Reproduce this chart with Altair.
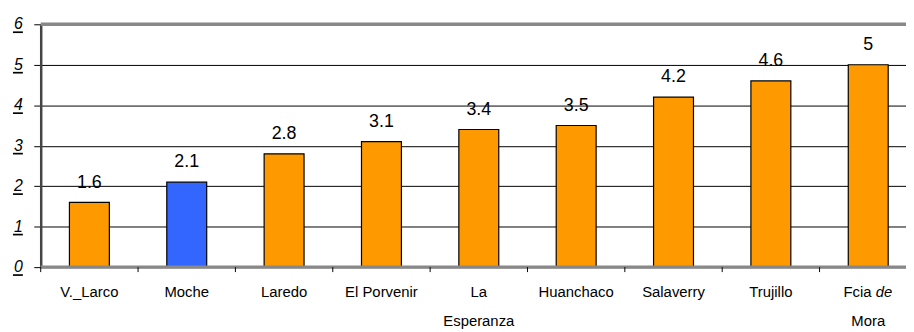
import altair as alt
import pandas as pd

places = ["V._Larco", "Moche", "Laredo", "El Porvenir", "La\nEsperanza",
          "Huanchaco", "Salaverry", "Trujillo", "Fcia de\nMora"]
values = [1.6, 2.1, 2.8, 3.1, 3.4, 3.5, 4.2, 4.6, 5]
highlight = "Moche"
y_ticks = [0, 1, 2, 3, 4, 5, 6]
frame_lines = [0, 6]

df = pd.DataFrame({"place": places, "value": values})
df["group"] = ["hi" if p == highlight else "base" for p in places]
ticks_df = pd.DataFrame({"value": y_ticks})
frame_df = pd.DataFrame({"value": frame_lines})

# last label: first line is "Fcia" (upright) + "de" (italic)
last = places[-1]
first_line_words = last.split("\n")[0].split(" ")
fcia_df = pd.DataFrame({"place": [last], "txt": [first_line_words[0]]})
de_df = pd.DataFrame({"place": [last], "txt": [first_line_words[1]]})

FONT = "Liberation Sans"
xscale = alt.Scale(range=[0, 884], paddingInner=0, paddingOuter=0)
yscale = alt.Scale(domain=[0, 6], nice=False)

label_expr = ("indexof(datum.label, 'Fcia') == 0 ? ['', split(datum.label, '\\n')[1]]"
              " : split(datum.label, '\\n')")

xaxis = alt.Axis(labelAngle=0, domain=False, ticks=False, grid=False,
                 labelFontSize=15, labelColor="#000000",
                 labelFont=FONT, labelBaseline="top",
                 labelPadding=18, labelLineHeight=29,
                 labelLimit=200,
                 labelExpr=label_expr)
yaxis = alt.Axis(values=y_ticks, grid=True, gridColor="#000000",
                 gridWidth=1, tickSize=7, tickColor="#000000",
                 domainColor="#444444", domainWidth=2.5,
                 labels=False)

X = alt.X("place:N", sort=None, scale=xscale, title=None, axis=xaxis)
Y = alt.Y("value:Q", scale=yscale, title=None, axis=yaxis)

bars = alt.Chart(df).mark_bar(
    width=alt.RelativeBandSize(0.41), stroke="#000000", strokeWidth=1.2
).encode(
    x=X, y=Y,
    color=alt.Color("group:N", legend=None,
                    scale=alt.Scale(domain=["base", "hi"],
                                    range=["#FF9900", "#3366FF"])),
)

frame = alt.Chart(frame_df).mark_rule(color="#888888", strokeWidth=3.5).encode(
    y=Y
)

xticks = alt.Chart(df).mark_rule(color="#000000", strokeWidth=1).encode(
    x=alt.X("place:N", sort=None, scale=xscale, title=None, axis=xaxis,
            bandPosition=0),
    y=alt.value(245), y2=alt.value(250),
)

ylabels = alt.Chart(ticks_df).mark_text(
    fontSize=16, font=FONT, fontStyle="italic", color="#000000",
    align="right", baseline="middle", dx=-1
).encode(
    y=Y, x=alt.value(-17), text=alt.Text("value:Q"),
)

underline = alt.Chart(ticks_df).mark_rule(
    color="#000000", strokeWidth=1.7, yOffset=8
).encode(
    y=Y,
    x=alt.value(-28), x2=alt.value(-18),
)

labels = alt.Chart(df).mark_text(
    fontSize=18, font=FONT, color="#000000", baseline="alphabetic", dy=-15
).encode(
    x=X, y=Y,
    text=alt.Text("value:Q"),
)

fcia = alt.Chart(fcia_df).mark_text(
    fontSize=15, font=FONT, color="#000000", baseline="top", align="left",
    dx=-25
).encode(x=X, y=alt.value(263), text="txt:N")

de = alt.Chart(de_df).mark_text(
    fontSize=15, font=FONT, fontStyle="italic", color="#000000",
    baseline="top", align="left", dx=7.5
).encode(x=X, y=alt.value(263), text="txt:N")

chart = alt.layer(bars, frame, xticks, ylabels, underline, labels, fcia, de).properties(
    width=873, height=245,
    autosize=alt.AutoSizeParams(type="none"),
    padding={"left": 33, "top": 15, "right": 0, "bottom": 64},
).configure_view(stroke=None).configure(font=FONT, background="#ffffff")

chart.save("out.html", embed_options={"renderer": "svg", "actions": False})
